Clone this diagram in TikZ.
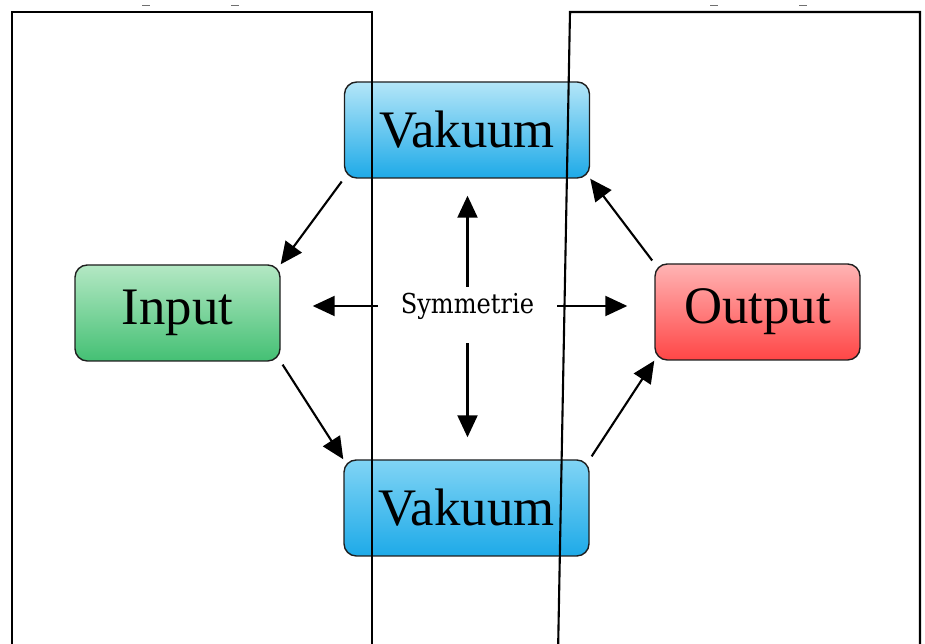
\documentclass[tikz,border=0pt]{standalone}
\usepackage{fontspec}
\setmainfont{Liberation Serif}
\newfontfamily\symfont[FakeStretch=0.88]{DejaVu Serif}
\usetikzlibrary{arrows.meta,calc,positioning}
\definecolor{Ink}{HTML}{1E1E1E}
\definecolor{SkyTop}{HTML}{B4E6F8}
\definecolor{SkyMid}{HTML}{80D4F5}
\definecolor{SkyBottom}{HTML}{1EAAE8}
\definecolor{LeafTop}{HTML}{B4E8C4}
\definecolor{LeafBottom}{HTML}{44C074}
\definecolor{RoseTop}{HTML}{FFB4B4}
\definecolor{RoseBottom}{HTML}{FF4646}
\definecolor{SoftGray}{HTML}{707070}
\tikzset{
  stage/.style={
    rounded corners=7pt, draw=Ink, line width=0.8pt, inner sep=0pt,
    minimum height=1.92cm, align=center, font=\fontsize{30}{36}\selectfont
  },
  vacuum/.style={stage, minimum width=4.9cm, top color=SkyTop, bottom color=SkyBottom},
  inport/.style={stage, minimum width=4.1cm, top color=LeafTop, bottom color=LeafBottom},
  outport/.style={stage, minimum width=4.1cm, top color=RoseTop, bottom color=RoseBottom},
  symm/.style={
    inner sep=0pt, minimum width=3.58cm, minimum height=0.76cm,
    font=\symfont\fontsize{15.6}{18}\selectfont
  },
  frame/.style={line width=1.2pt, draw=black},
  flow/.style={-{Triangle[length=4.4mm,width=4mm]}, line width=1.2pt, draw=black}
}

\begin{document}
\begin{tikzpicture}[x=1cm,y=1cm]
    \useasboundingbox (0,0) rectangle (18.5,12.88);
    \clip (0,0) rectangle (18.5,12.88);
    % the four states and the label in the middle
    \node[vacuum] (vacTop) at (9.34,10.28) {Vakuum};
    \node[vacuum, top color=SkyMid] (vacBot) at (9.33,2.72) {Vakuum};
    \node[inport] (input) at (3.55,6.62) {Input};
    \node[outport] (output) at (15.15,6.64) {Output};
    \node[symm] (sym) at (9.35,6.76) {Symmetrie};
    % open frames, drawn over the boxes
    \draw[frame] (0.24,-0.2) |- (7.44,12.64) -- (7.44,-0.2);
    \draw[frame] (11.16,-0.2) -- (11.4,12.64) -- (18.4,12.64) -- (18.4,-0.2);
    \foreach \x in {2.92,4.70,14.28,16.06}
      \draw[SoftGray, line width=1pt] (\x-0.08,12.77) -- (\x+0.08,12.77);
    % cycle round the boxes
    \draw[flow, shorten <=2pt] (vacTop.south west) -- (input.north east);
    \draw[flow, shorten <=2pt] (input.south east) -- (vacBot.north west);
    \draw[flow, shorten <=2pt] (vacBot.north east) -- (output.south west);
    \draw[flow, shorten <=2pt] (output.north west) -- (vacTop.south east);
    % symmetry arrows
    \draw[flow, shorten >=0.34cm] (sym.north) -- (sym.north |- vacTop.south);
    \draw[flow, shorten <=0.36cm, shorten >=0.44cm] (sym.south) -- (sym.south |- vacBot.north);
    \draw[flow, shorten >=0.64cm] (sym.west) -- (sym.west -| input.east);
    \draw[flow, shorten >=0.54cm] (sym.east) -- (sym.east -| output.west);
  \end{tikzpicture}
\end{document}
